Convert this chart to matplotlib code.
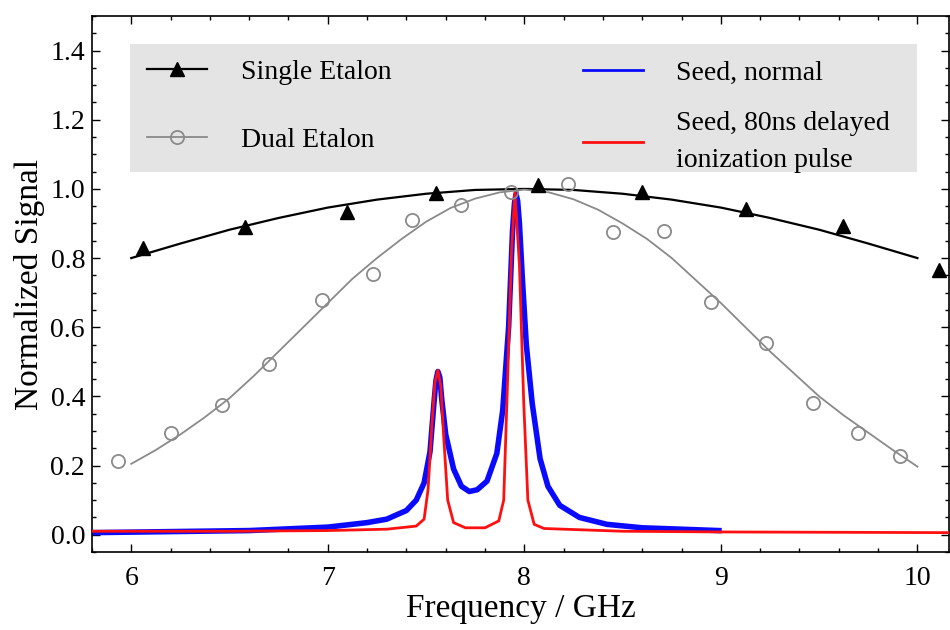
import numpy as np
import matplotlib
matplotlib.use('Agg')
import matplotlib.pyplot as plt
from matplotlib.ticker import MultipleLocator
from matplotlib.patches import Rectangle
from matplotlib.lines import Line2D

plt.rcParams['font.family'] = ['Liberation Serif', 'DejaVu Serif']

# ── Data ───────────────────────────────────────────────────────────────────
single_x = [6.06, 6.58, 7.10, 7.55, 8.07, 8.60, 9.13, 9.62, 10.11]
single_y = [0.830, 0.889, 0.934, 0.989, 1.012, 0.992, 0.941, 0.893, 0.766]

single_fit_x = [6.0, 6.25, 6.5, 6.75, 7.0, 7.25, 7.5, 7.75, 8.0,
                8.25, 8.5, 8.75, 9.0, 9.25, 9.5, 9.75, 10.0]
single_fit_y = [0.800, 0.842, 0.882, 0.916, 0.946, 0.969, 0.986, 0.997, 1.000,
                0.997, 0.986, 0.969, 0.946, 0.916, 0.882, 0.842, 0.800]

dual_x = [5.93, 6.20, 6.46, 6.70, 6.97, 7.23, 7.43, 7.68, 7.93,
          8.22, 8.45, 8.71, 8.95, 9.23, 9.47, 9.70, 9.91]
dual_y = [0.212, 0.294, 0.376, 0.493, 0.679, 0.753, 0.910, 0.954, 0.990,
          1.014, 0.875, 0.879, 0.674, 0.554, 0.381, 0.294, 0.228]

dual_fit_x = [6.0, 6.125, 6.25, 6.375, 6.5, 6.625, 6.75, 6.875, 7.0, 7.125,
              7.25, 7.375, 7.5, 7.625, 7.75, 7.875, 8.0, 8.125, 8.25, 8.375,
              8.5, 8.625, 8.75, 8.875, 9.0, 9.125, 9.25, 9.375, 9.5, 9.625,
              9.75, 9.875, 10.0]
dual_fit_y = [0.205, 0.245, 0.290, 0.340, 0.395, 0.460, 0.530, 0.600, 0.670,
              0.740, 0.800, 0.855, 0.905, 0.945, 0.972, 0.990, 0.998, 0.990,
              0.970, 0.940, 0.900, 0.855, 0.800, 0.735, 0.670, 0.600, 0.530,
              0.465, 0.400, 0.345, 0.295, 0.245, 0.197]

seed_x = [5.80, 6.2, 6.6, 7.0, 7.2, 7.3, 7.4, 7.45, 7.49, 7.52, 7.54, 7.55,
          7.56, 7.57, 7.58, 7.60, 7.64, 7.68, 7.72, 7.76, 7.81, 7.86, 7.89,
          7.92, 7.94, 7.95, 7.958, 7.966, 7.975, 7.99, 8.01, 8.04, 8.08, 8.12,
          8.18, 8.28, 8.42, 8.6, 8.99]
seed_y = [0.006, 0.009, 0.012, 0.022, 0.035, 0.045, 0.070, 0.100, 0.150, 0.240,
          0.380, 0.445, 0.472, 0.455, 0.390, 0.290, 0.190, 0.140, 0.125, 0.130,
          0.155, 0.235, 0.360, 0.600, 0.880, 0.960, 0.985, 0.965, 0.900, 0.740,
          0.550, 0.380, 0.220, 0.140, 0.085, 0.050, 0.030, 0.020, 0.012]

delayed_x = [5.80, 6.5, 7.0, 7.3, 7.45, 7.49, 7.51, 7.53, 7.545, 7.56, 7.575,
             7.59, 7.61, 7.64, 7.7, 7.8, 7.87, 7.895, 7.915, 7.935, 7.952,
             7.975, 7.997, 8.018, 8.05, 8.1, 8.5, 9.0, 10.16]
delayed_y = [0.010, 0.010, 0.012, 0.016, 0.025, 0.045, 0.130, 0.320, 0.440,
             0.475, 0.430, 0.280, 0.100, 0.035, 0.020, 0.020, 0.040, 0.100,
             0.450, 0.820, 0.990, 0.780, 0.380, 0.100, 0.030, 0.018, 0.010,
             0.008, 0.006]

BLACK = "#000000"
GRAY = "#8a8a8a"
BLUE = "#0a0aff"
RED = "#ff1010"

fig = plt.figure(figsize=(9.5, 6.3), dpi=100)
ax = fig.add_axes([0.0968, 0.1238, 0.902, 0.8508])

ax.plot(seed_x, seed_y, color=BLUE, lw=4.0, solid_joinstyle='round', zorder=2)
ax.plot(delayed_x, delayed_y, color=RED, lw=2.0, zorder=3)

ax.plot(single_fit_x, single_fit_y, color=BLACK, lw=1.6, zorder=4)
ax.plot(single_x, single_y, ls='none', marker='^', ms=10, color=BLACK, zorder=5)
ax.plot(dual_fit_x, dual_fit_y, color=GRAY, lw=1.3, zorder=4)
ax.plot(dual_x, dual_y, ls='none', marker='o', ms=9.5, mfc='none', mec=GRAY,
        mew=1.3, zorder=5)

ax.set_xlim(5.8, 10.16)
ax.set_ylim(-0.05, 1.50)
ax.xaxis.set_major_locator(MultipleLocator(1))
ax.xaxis.set_minor_locator(MultipleLocator(0.2))
ax.yaxis.set_major_locator(MultipleLocator(0.2))
ax.yaxis.set_minor_locator(MultipleLocator(0.05))
ax.tick_params(which='both', direction='in', top=True, right=True, width=1.0)
ax.tick_params(which='major', length=6, labelsize=20)
ax.tick_params(which='minor', length=3)
ax.tick_params(axis='x', pad=10)
ax.tick_params(axis='y', pad=5)
for s in ax.spines.values():
    s.set_linewidth(1.2)

ax.set_xlabel("Frequency / GHz", fontsize=24, labelpad=2)
ax.set_ylabel("Normalized Signal", fontsize=24, labelpad=4)

# ── Legend background + two legend columns ─────────────────────────────────
ax.add_patch(Rectangle((0.0443, 0.709), 0.9184, 0.239, transform=ax.transAxes,
                       facecolor="#e4e4e4", edgecolor="none", zorder=1))

h_single = Line2D([], [], color=BLACK, lw=1.6, marker='^', ms=10)
h_dual = Line2D([], [], color=GRAY, lw=1.3, marker='o', ms=9.5, mfc='none',
                mec=GRAY, mew=1.3)
leg1 = ax.legend([h_single, h_dual], ["Single Etalon", "Dual Etalon"],
                 loc='center left', bbox_to_anchor=(0.0648, 0.832),
                 frameon=False, fontsize=20, handlelength=2.15,
                 handletextpad=1.2, borderpad=0, borderaxespad=0,
                 labelspacing=1.55, numpoints=1)
ax.add_artist(leg1)

h_seed = Line2D([], [], color=BLUE, lw=2.0)
h_del = Line2D([], [], color=RED, lw=2.0)
leg2 = ax.legend([h_seed, h_del],
                 ["Seed, normal", "Seed, 80ns delayed\nionization pulse"],
                 loc='center left', bbox_to_anchor=(0.573, 0.812),
                 frameon=False, fontsize=20, handlelength=2.15,
                 handletextpad=1.2, borderpad=0, borderaxespad=0,
                 labelspacing=0.91)
for t in leg2.get_texts():
    t.set_linespacing(1.62)

fig.savefig("out.png", dpi=100)
